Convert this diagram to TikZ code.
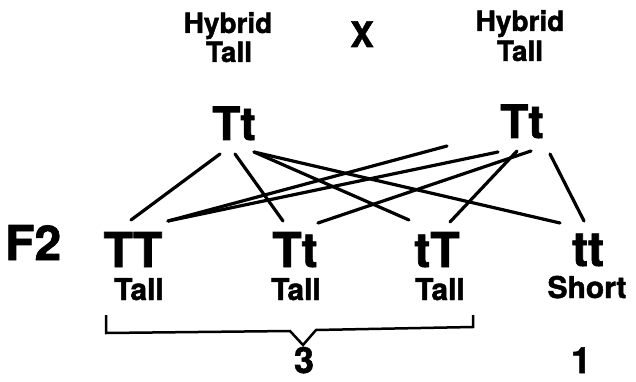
\documentclass[tikz,border=0pt]{standalone}
\usepackage{fontspec}
\setmainfont[BoldFeatures={FakeBold=1.5}]{TeX Gyre Heros}
\begin{document}
\begin{tikzpicture}[x=1pt,y=-1pt,
  txt/.style={anchor=base,inner sep=0pt,font=\bfseries},
  cross/.style={line width=3.2pt,line cap=round},
  brace/.style={line width=2.5pt,line join=miter}]
\useasboundingbox (0,0) rectangle (636,382);
% parents
\node[txt,font=\bfseries\fontsize{28}{28}\selectfont] (hL1) at (228,33) {Hybrid};
\node[txt,font=\bfseries\fontsize{28}{28}\selectfont] (hL2) at (229,62) {Tall};
\node[txt,font=\bfseries\fontsize{28}{28}\selectfont] (hR1) at (520,31) {Hybrid};
\node[txt,font=\bfseries\fontsize{28}{28}\selectfont] (hR2) at (520,61) {Tall};
\node[txt,font=\bfseries\fontsize{35}{35}\selectfont] (x) at (362,47) {X};
\node[txt,font=\bfseries\fontsize{46}{46}\selectfont] (pL) at (234,140) {Tt};
\node[txt,font=\bfseries\fontsize{46}{46}\selectfont] (pR) at (522,138) {Tt};
% F2
\node[txt,anchor=base west,font=\bfseries\fontsize{48}{48}\selectfont] (f2) at (5,260) {F2};
% children
\node[txt,font=\bfseries\fontsize{48}{48}\selectfont] (cTT) at (133,267) {TT};
\node[txt,font=\bfseries\fontsize{48}{48}\selectfont] (cTt) at (295,267) {Tt};
\node[txt,font=\bfseries\fontsize{48}{48}\selectfont] (ctT) at (437,267) {tT};
\node[txt,font=\bfseries\fontsize{48}{48}\selectfont] (ctt) at (588,266) {tt};
\node[txt,font=\bfseries\fontsize{30}{30}\selectfont] (l1) at (139,300) {Tall};
\node[txt,font=\bfseries\fontsize{30}{30}\selectfont] (l2) at (296,300) {Tall};
\node[txt,font=\bfseries\fontsize{30}{30}\selectfont] (l3) at (440,300) {Tall};
\node[txt,font=\bfseries\fontsize{30}{30}\selectfont] (l4) at (587,298) {Short};
\node[txt,font=\bfseries\fontsize{36}{36}\selectfont] (n3) at (304,373) {3};
\node[txt,font=\bfseries\fontsize{36}{36}\selectfont] (n1) at (581,373) {1};
% connector end points
\coordinate (a1) at (220,154);
\coordinate (a2) at (235,154);
\coordinate (a3) at (254,152);
\coordinate (b0) at (447,146);
\coordinate (b1) at (498,152);
\coordinate (b2) at (517,151);
\coordinate (b3) at (531,151);
\coordinate (b4) at (550,154);
\coordinate (eTTa) at (131,220);
\coordinate (eTTb) at (168,221);
\coordinate (eTta) at (283,221);
\coordinate (eTtb) at (318,223);
\coordinate (etTa) at (409,220);
\coordinate (etTb) at (450,222);
\coordinate (etta) at (560,223);
\coordinate (ettb) at (584,221);
% connectors
\draw[cross] (a1) -- (eTTa);
\draw[cross] (a2) -- (eTta);
\draw[cross] (a3) -- (etTa);
\draw[cross] (a3) -- (etta);
\draw[cross] (b0) -- (eTTb);
\draw[cross] (b1) -- (eTTb);
\draw[cross] (b3) -- (eTtb);
\draw[cross] (b2) -- (etTb);
\draw[cross] (b4) -- (ettb);
% bracket
\coordinate (bl) at (106,315);
\coordinate (br) at (473,315);
\coordinate (bp) at (303,345);
\draw[brace] (bl) -- (106,333) -- (290,331) -- (bp) -- (316,330) -- (473,327) -- (br);
\end{tikzpicture}
\end{document}
